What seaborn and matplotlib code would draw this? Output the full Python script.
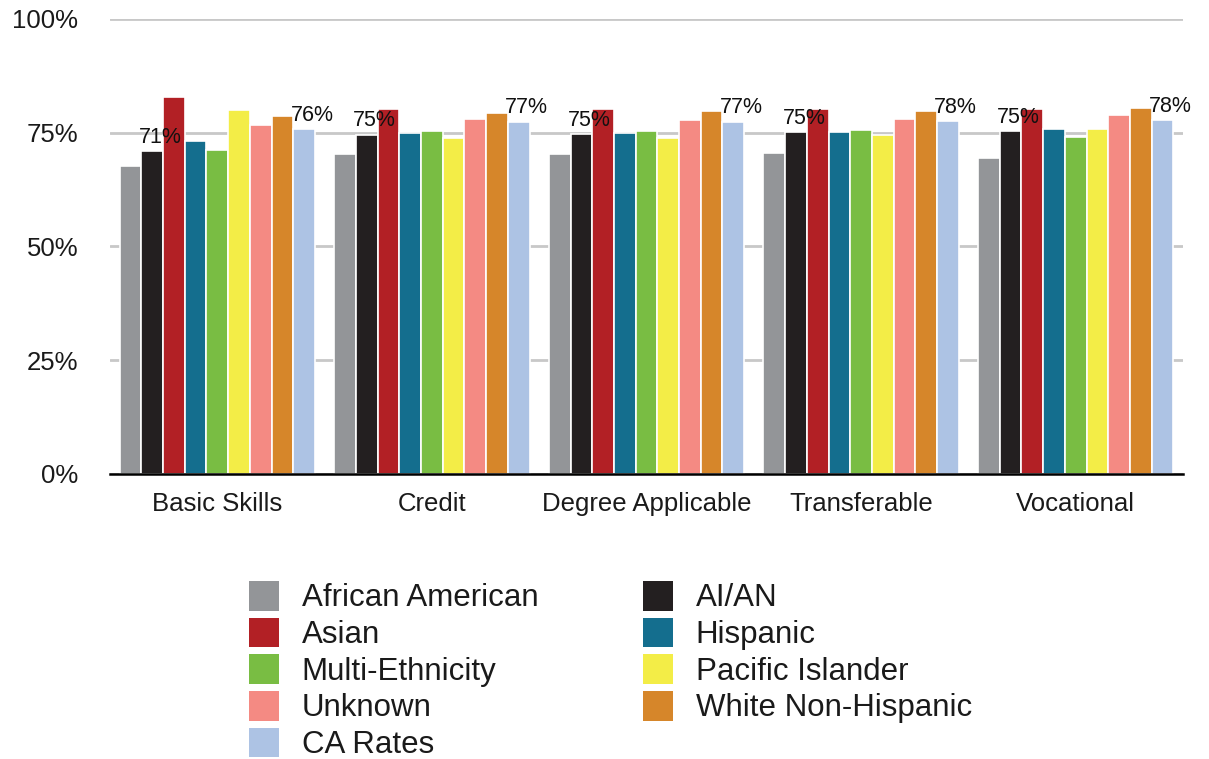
import matplotlib
matplotlib.use("Agg")
import matplotlib.pyplot as plt
import seaborn as sns
import pandas as pd
from matplotlib.patches import Patch

categories = ["Basic Skills", "Credit", "Degree Applicable", "Transferable", "Vocational"]
series = ["African American", "AI/AN", "Asian", "Hispanic", "Multi-Ethnicity",
          "Pacific Islander", "Unknown", "White Non-Hispanic", "CA Rates"]
african_american = [67.7, 70.3, 70.3, 70.5, 69.5]
ai_an = [71.0, 74.6, 74.7, 75.2, 75.4]
asian = [82.9, 80.2, 80.2, 80.2, 80.2]
hispanic = [73.2, 75.0, 75.0, 75.2, 75.8]
multi_ethnicity = [71.2, 75.4, 75.4, 75.6, 74.1]
pacific_islander = [80.0, 73.8, 73.8, 74.4, 75.8]
unknown = [76.7, 78.0, 77.8, 78.0, 78.9]
white_non_hispanic = [78.7, 79.3, 79.8, 79.8, 80.4]
ca_rates = [75.8, 77.4, 77.4, 77.6, 77.8]
labeled_series = ["AI/AN", "CA Rates"]
y_ticks = [0, 25, 50, 75, 100]
y_tick_labels = ["0%", "25%", "50%", "75%", "100%"]

colors = ["#939598", "#231f20", "#b22025", "#146e8e", "#79bd43",
          "#f3ed47", "#f48a83", "#d6862a", "#adc3e4"]

values = [african_american, ai_an, asian, hispanic, multi_ethnicity,
          pacific_islander, unknown, white_non_hispanic, ca_rates]
rows = []
for s, vals in zip(series, values):
    for c, v in zip(categories, vals):
        rows.append({"Category": c, "Group": s, "Value": v})
df = pd.DataFrame(rows)

sns.set_style("white")
plt.rcParams["font.family"] = ["Liberation Sans", "DejaVu Sans"]

fig = plt.figure(figsize=(12.09, 7.59), dpi=100)
ax = fig.add_axes([110 / 1209, 1 - 474 / 759, (1183 - 110) / 1209, (474 - 19) / 759])

sns.barplot(data=df, x="Category", y="Value", hue="Group", order=categories,
            hue_order=series, palette=colors, width=0.91, ax=ax,
            edgecolor="white", linewidth=1.2, legend=False, saturation=1)

ax.set_ylim(0, 100)
ax.set_xlim(-0.5, 4.5)
ax.set_yticks(y_ticks)
ax.set_yticklabels(y_tick_labels, fontsize=18.5, color="#1a1a1a")
ax.tick_params(axis="x", labelsize=18.5, length=0, pad=13, labelcolor="#1a1a1a")
ax.tick_params(axis="y", length=0, pad=23)
ax.set_xlabel("")
ax.set_ylabel("")
ax.yaxis.grid(True, color="#c8c8c8", linewidth=2)
ax.set_axisbelow(True)
for sp in ["left", "right", "top"]:
    ax.spines[sp].set_visible(False)
ax.spines["bottom"].set_color("black")
ax.spines["bottom"].set_linewidth(1.8)

for cont, s in zip(ax.containers, series):
    if s in labeled_series:
        for bar, v in zip(cont.patches, cont.datavalues):
            ax.annotate(f"{round(v)}%", xy=(bar.get_x(), v), xytext=(-2, 6),
                        textcoords="offset points", ha="left", va="baseline",
                        fontsize=15.5, color="#111111")

fs = 22.5
col1 = [0, 2, 4, 6, 8]
col2 = [1, 3, 5, 7]
for idxs, x0 in [(col1, 249), (col2, 643)]:
    handles = [Patch(facecolor=colors[i], edgecolor="none", label=series[i]) for i in idxs]
    leg = fig.legend(handles=handles, loc="upper left",
                     bbox_to_anchor=(x0 / 1209, 1 - 581 / 759), ncol=1, frameon=False,
                     fontsize=fs, handlelength=0.96, handleheight=1.08,
                     handletextpad=0.72, labelspacing=0.135, borderpad=0, borderaxespad=0)
    for t in leg.get_texts():
        t.set_color("#1a1a1a")

fig.savefig("out.png", dpi=100)
